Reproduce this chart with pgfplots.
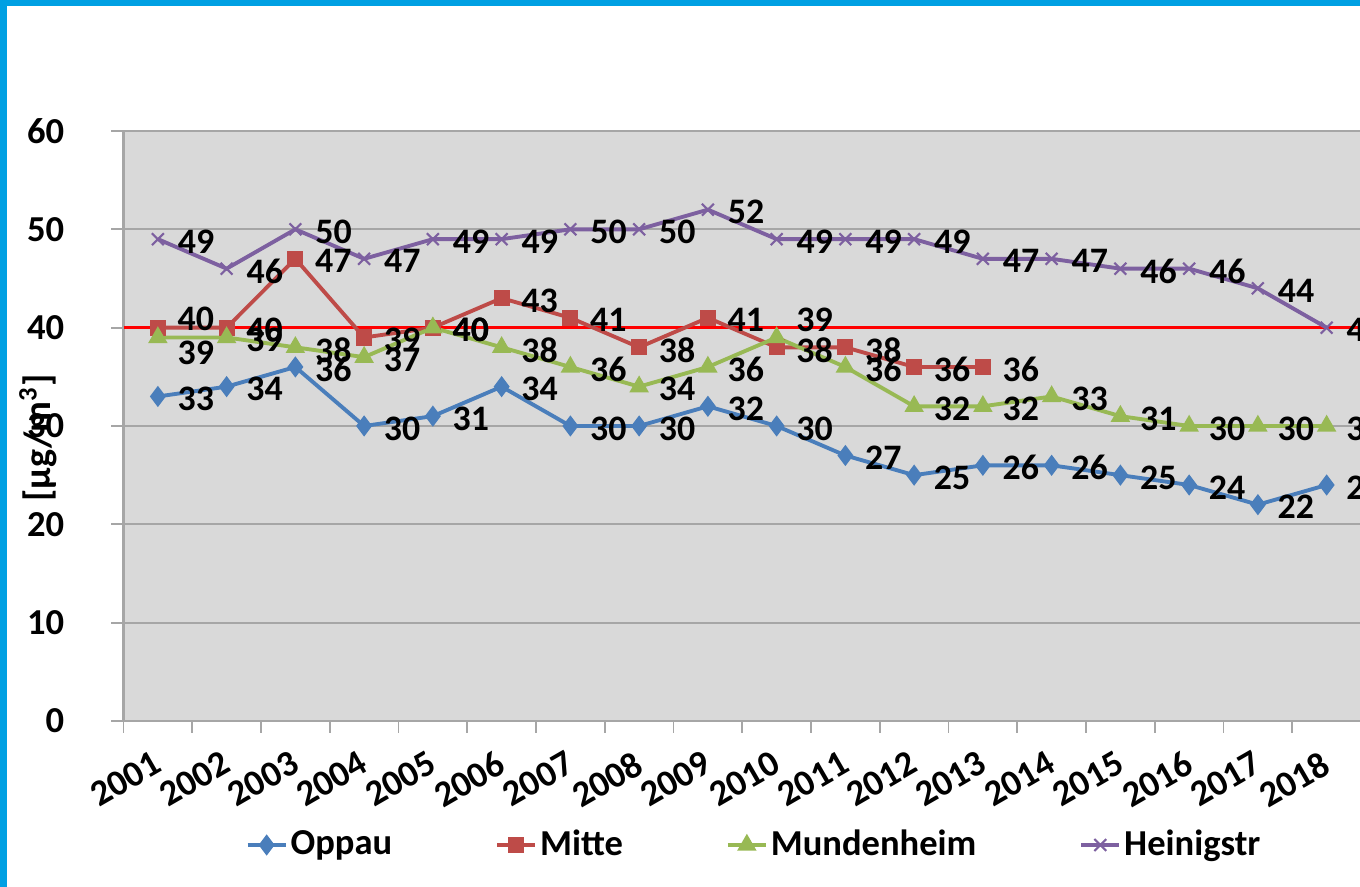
\documentclass[border=0pt]{standalone}
\usepackage{fontspec}
\setmainfont{Carlito}
\usepackage{pgfplots}
\usepackage{pgfplotstable}
\pgfplotsset{compat=1.18}
\definecolor{frameblue}{RGB}{0,160,227}
\definecolor{cOppau}{RGB}{74,126,187}
\definecolor{cMitte}{RGB}{190,75,72}
\definecolor{cMund}{RGB}{152,185,84}
\definecolor{cHein}{RGB}{125,96,160}
\definecolor{plotbg}{RGB}{217,217,217}
\definecolor{gridgray}{RGB}{166,166,166}

\pgfplotstableread{
x y dx dy
0 33 0 0
1 34 0 0
2 36 0 0
3 30 0 0
4 31 0 0
5 34 0 0
6 30 0 0
7 30 0 0
8 32 0 0
9 30 0 0
10 27 0 0
11 25 0 0
12 26 0 0
13 26 0 0
14 25 0 0
15 24 0 0
16 22 0 0
17 24 0 0
}\oppau
\pgfplotstableread{
x y dx dy
0 40 0 11
1 40 0 0
2 47 0 0
3 39 0 0
4 40 0 0
5 43 0 0
6 41 0 0
7 38 0 0
8 41 0 0
9 38 0 0
10 38 0 0
11 36 0 0
12 36 0 0
}\mitte
\pgfplotstableread{
x y dx dy
0 39 0 -13
1 39 0 0
2 38 0 0
3 37 0 0
4 40 0 0
5 38 0 0
6 36 0 0
7 34 0 0
8 36 0 0
9 39 0 20
10 36 0 0
11 32 0 0
12 32 0 0
13 33 0 0
14 31 0 0
15 30 0 0
16 30 0 0
17 30 0 0
}\mund
\pgfplotstableread{
x y dx dy
0 49 0 0
1 46 0 0
2 50 0 0
3 47 0 0
4 49 0 0
5 49 0 0
6 50 0 0
7 50 0 0
8 52 0 0
9 49 0 0
10 49 0 0
11 49 0 0
12 47 0 0
13 47 0 0
14 46 0 0
15 46 0 0
16 44 0 0
17 40 0 0
}\hein

\newcommand{\chartfont}{\bfseries\fontsize{10.4}{12}\selectfont}
\pgfplotsset{
  vlabels/.style={
    nodes near coords,
    visualization depends on={\thisrow{dx}\as\labdx},
    visualization depends on={\thisrow{dy}\as\labdy},
    every node near coord/.append style={anchor=west, inner sep=0pt, text=black,
      font=\bfseries\fontsize{10.2}{12}\selectfont,
      xshift=0.19cm, yshift={(\labdy-2.5)*0.2845pt}},
  },
}

\begin{document}
\begin{tikzpicture}
\useasboundingbox (0,0) rectangle (13.6,8.87);
\clip (0,0) rectangle (13.6,8.87);
\fill[frameblue] (0,0) rectangle (0.07,8.87);
\fill[frameblue] (0,8.81) rectangle (13.6,8.87);
\begin{axis}[
  at={(1.235cm,1.66cm)}, anchor=south west,
  scale only axis, width=12.375cm, height=5.90cm,
  xmin=-0.5, xmax=17.5, ymin=0, ymax=60,
  /pgf/number format/assume math mode=true,
  axis background/.style={fill=plotbg},
  axis line style={gridgray, line width=0.6pt},
  tick style={gridgray, line width=0.5pt},
  tick align=outside, major tick length=0.12cm,
  tick pos=left,
  xtick={-0.5,0.5,...,17.5},
  x tick label as interval,
  xticklabels={2001,2002,2003,2004,2005,2006,2007,2008,2009,2010,2011,2012,2013,2014,2015,2016,2017,2018},
  ytick={0,10,...,60},
  ymajorgrids, grid style={gridgray, line width=0.5pt},
  every tick label/.append style={font=\chartfont, text=black},
  xticklabel style={xshift=-0.06cm, yshift=-0.16cm, rotate=30, anchor=north east, inner sep=0pt},
  yticklabel style={xshift=-0.35cm},
  ylabel={[µg/m\textsuperscript{3}]},
  ylabel style={at={(axis description cs:-0.0690,0.48)}, anchor=center, font=\bfseries\fontsize{10.8}{12}\selectfont},
  legend columns=4,
  legend style={draw=none, fill=none, at={(axis description cs:0.0982,-0.2102)}, anchor=west,
    inner sep=0pt, font=\chartfont, nodes={inner sep=0.03cm},
    /tikz/every even column/.append style={column sep=1.0cm}},
  legend image code/.code={\draw[mark repeat=2,mark phase=2] plot coordinates {(0cm,0cm)(0.19cm,0cm)(0.38cm,0cm)};},
]
\addplot[red, line width=0.9pt, forget plot] coordinates {(-0.5,40) (17.5,40)};
\addplot[cOppau, line width=1.1pt, mark=diamond*, mark size=2.7pt, mark options={fill=cOppau, draw=cOppau, line width=0.4pt}, vlabels] table[x=x,y=y] {\oppau};
\addlegendentry{Oppau}
\addplot[cMitte, line width=1.1pt, mark=square*, mark size=2.1pt, mark options={fill=cMitte, draw=cMitte, line width=0.4pt}, vlabels] table[x=x,y=y] {\mitte};
\addlegendentry{Mitte}
\addplot[cMund, line width=1.1pt, mark=triangle*, mark size=2.8pt, mark options={fill=cMund, draw=cMund, line width=0.4pt}, vlabels] table[x=x,y=y] {\mund};
\addlegendentry{Mundenheim}
\addplot[cHein, line width=1.1pt, mark=x, mark size=2.4pt, mark options={line width=0.6pt}, vlabels] table[x=x,y=y] {\hein};
\addlegendentry{Heinigstr}
\end{axis}
\end{tikzpicture}
\end{document}
